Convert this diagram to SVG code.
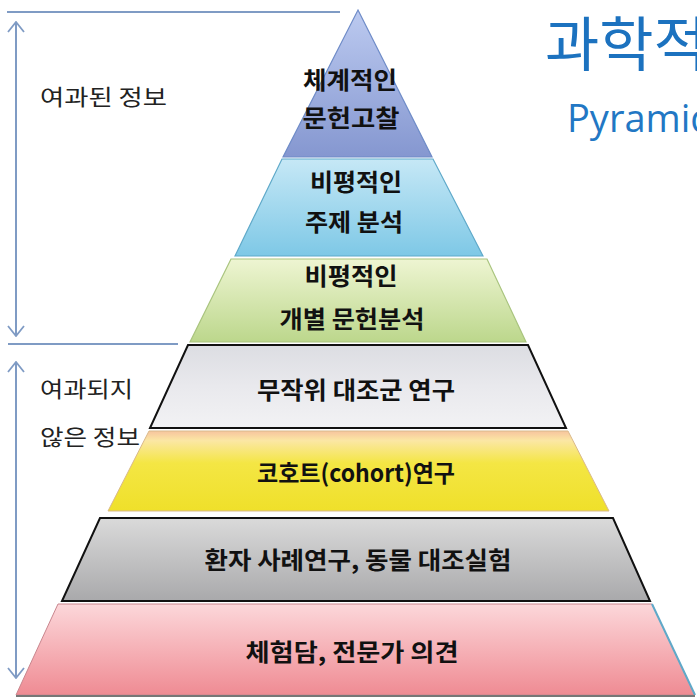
<svg xmlns="http://www.w3.org/2000/svg" width="697" height="700" viewBox="0 0 697 700">
<defs>
<style>
.lbl{font-family:"Noto Sans CJK KR","Noto Sans",sans-serif;font-weight:700;font-size:24px;fill:#111;text-anchor:middle}
.side{font-family:"Noto Sans CJK KR","Noto Sans",sans-serif;font-weight:400;font-size:22px;fill:#222}
.conn{stroke:#7f9bc4;stroke-width:2;fill:none}
.title{font-family:"Noto Sans CJK KR","Noto Sans",sans-serif;font-weight:400;fill:#1c72bf}
</style>
<marker id="arr" viewBox="0 0 12 18" refX="11" refY="9" markerWidth="12" markerHeight="18" markerUnits="userSpaceOnUse" orient="auto-start-reverse">
<path d="M1,1 L11,9 L1,17" fill="none" stroke="#7f9bc4" stroke-width="1.8"/>
</marker>
<linearGradient id="g1" x1="0" y1="0" x2="0" y2="1"><stop offset="0" stop-color="#bccaf0"/><stop offset="1" stop-color="#8597d0"/></linearGradient>
<linearGradient id="g2" x1="0" y1="0" x2="0" y2="1"><stop offset="0" stop-color="#c6e8f6"/><stop offset="1" stop-color="#7ec8e6"/></linearGradient>
<linearGradient id="g3" x1="0" y1="0" x2="0" y2="1"><stop offset="0" stop-color="#eef5d2"/><stop offset="1" stop-color="#bcd78c"/></linearGradient>
<linearGradient id="g4" x1="0" y1="0" x2="0" y2="1"><stop offset="0" stop-color="#dcdde2"/><stop offset="0.5" stop-color="#e9e9ed"/><stop offset="1" stop-color="#f2f2f4"/></linearGradient>
<linearGradient id="g5" x1="0" y1="0" x2="0" y2="1"><stop offset="0" stop-color="#f7c49e"/><stop offset="0.12" stop-color="#fbe7a4"/><stop offset="0.4" stop-color="#f4e644"/><stop offset="1" stop-color="#efe02a"/></linearGradient>
<linearGradient id="g6" x1="0" y1="0" x2="0" y2="1"><stop offset="0" stop-color="#dadada"/><stop offset="1" stop-color="#a9a9ab"/></linearGradient>
<linearGradient id="g7" x1="0" y1="0" x2="0" y2="1"><stop offset="0" stop-color="#fcd7da"/><stop offset="1" stop-color="#ef8b93"/></linearGradient>
</defs>
<rect width="697" height="700" fill="#ffffff"/>

<g id="title">
<text class="title" x="545" y="66" font-size="59">과학적</text>
<text x="567" y="132" font-family="Open Sans, Noto Sans, sans-serif" font-size="38" fill="#2277c4">Pyramid</text>
</g>

<g id="connectors">
<line class="conn" x1="7" y1="12" x2="340" y2="12"/>
<line class="conn" x1="8" y1="344" x2="178" y2="344"/>
<line class="conn" x1="16" y1="22" x2="16" y2="336" marker-start="url(#arr)" marker-end="url(#arr)"/>
<line class="conn" x1="16" y1="362" x2="16" y2="678" marker-start="url(#arr)" marker-end="url(#arr)"/>
</g>

<g id="label-filtered">
<text class="side" x="40" y="105" textLength="127" lengthAdjust="spacingAndGlyphs">여과된 정보</text>
</g>
<g id="label-unfiltered">
<text class="side" x="40" y="397" textLength="93" lengthAdjust="spacingAndGlyphs">여과되지</text>
<text class="side" x="40" y="445" textLength="100" lengthAdjust="spacingAndGlyphs">않은 정보</text>
</g>

<g id="layer1">
<polygon points="358,10 432,157 283,157" fill="url(#g1)" stroke="#6f8cc8" stroke-width="1.2"/>
<text class="lbl" x="350" y="89" textLength="94" lengthAdjust="spacingAndGlyphs">체계적인</text>
<text class="lbl" x="351" y="127" textLength="97" lengthAdjust="spacingAndGlyphs">문헌고찰</text>
</g>
<g id="layer2">
<polygon points="282,159 433,159 483,256 235,256" fill="url(#g2)" stroke="#5fa9c9" stroke-width="1.2"/>
<text class="lbl" x="356" y="191" textLength="92" lengthAdjust="spacingAndGlyphs">비평적인</text>
<text class="lbl" x="354" y="231" textLength="98" lengthAdjust="spacingAndGlyphs">주제 분석</text>
</g>
<g id="layer3">
<polygon points="231,259 487,259 526,342 190,342" fill="url(#g3)" stroke="#a9c47e" stroke-width="1.2"/>
<text class="lbl" x="351" y="285" textLength="93" lengthAdjust="spacingAndGlyphs">비평적인</text>
<text class="lbl" x="352" y="328" textLength="145" lengthAdjust="spacingAndGlyphs">개별 문헌분석</text>
</g>
<g id="layer4">
<polygon points="188,345 528,345 566,428 150,428" fill="url(#g4)" stroke="#111" stroke-width="2"/>
<text class="lbl" x="356" y="399" textLength="198" lengthAdjust="spacingAndGlyphs">무작위 대조군 연구</text>
</g>
<g id="layer5">
<polygon points="149,431 568,431 609,511 108,511" fill="url(#g5)" stroke="#d9b98a" stroke-width="1"/>
<text class="lbl" x="356" y="482" textLength="198" lengthAdjust="spacingAndGlyphs">코호트(cohort)연구</text>
</g>
<g id="layer6">
<polygon points="100,518 613,518 650,601 62,601" fill="url(#g6)" stroke="#111" stroke-width="2"/>
<text class="lbl" x="358" y="569" textLength="307" lengthAdjust="spacingAndGlyphs">환자 사례연구, 동물 대조실험</text>
</g>
<g id="layer7">
<polygon points="58,604 652,604 695,695 16,695" fill="url(#g7)" stroke="#c9868e" stroke-width="1"/>
<line x1="652" y1="604" x2="695" y2="695" stroke="#5fa9c9" stroke-width="2"/>
<line x1="16" y1="696" x2="695" y2="696" stroke="#777" stroke-width="2"/>
<text class="lbl" x="352" y="661" textLength="213" lengthAdjust="spacingAndGlyphs">체험담, 전문가 의견</text>
</g>
</svg>
